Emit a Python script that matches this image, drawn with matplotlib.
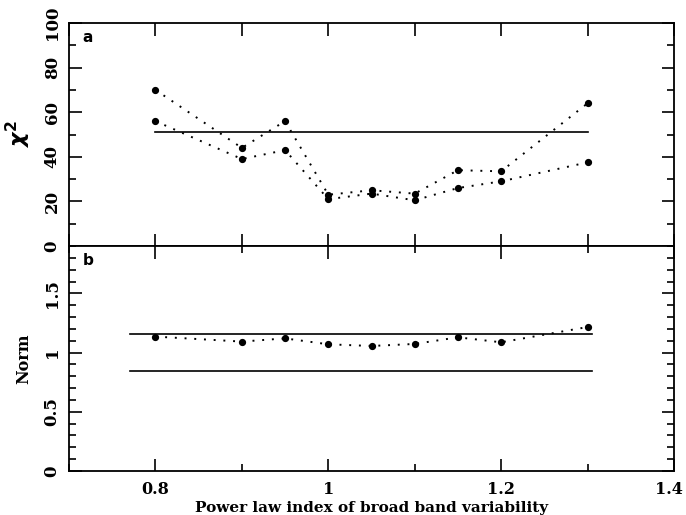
import numpy as np
import matplotlib
matplotlib.use("Agg")
import matplotlib.pyplot as plt
import matplotlib.transforms as mtrans
from matplotlib.ticker import MultipleLocator, FuncFormatter

# power law index values
index = [0.8, 0.9, 0.95, 1.0, 1.05, 1.1, 1.15, 1.2, 1.3]

# panel a: chi^2 for the two fits
chi2_a = [70, 44, 56, 23, 25, 23.5, 34, 33.5, 64]
chi2_b = [56, 39, 43, 21, 23.5, 20.5, 26, 29, 37.5]
chi2_level = 51
chi2_span = [0.8, 1.3]

# panel b: normalisation
norm = [1.135, 1.093, 1.12, 1.07, 1.056, 1.073, 1.129, 1.087, 1.216]
norm_hi = 1.155
norm_lo = 0.845
norm_span = [0.77, 1.305]

plt.rcParams['font.family'] = ['DejaVu Serif']
plt.rcParams['font.weight'] = 'bold'
plt.rcParams['axes.labelweight'] = 'bold'

fig = plt.figure(figsize=(6.86, 5.15), dpi=100)
ax1 = fig.add_axes([0.1006, 0.5223, 0.8819, 0.4330])
ax2 = fig.add_axes([0.1006, 0.0854, 0.8819, 0.4369])

dot = (0, (1, 4))
for ys in (chi2_a, chi2_b):
    ax1.plot(index, ys, color='black', ls=dot, lw=1.4, marker='o', ms=4.2, mec='black')
ax1.plot(chi2_span, [chi2_level, chi2_level], color='black', lw=1.2)

ax2.plot(index, norm, color='black', ls=dot, lw=1.4, marker='o', ms=4.2)
ax2.plot(norm_span, [norm_hi, norm_hi], color='black', lw=1.2)
ax2.plot(norm_span, [norm_lo, norm_lo], color='black', lw=1.2)

ax1.set_xlim(0.7, 1.4)
ax1.set_ylim(0, 100)
ax2.set_xlim(0.7, 1.4)
ax2.set_ylim(0, 1.9)

def short(v, pos):
    return ('%g' % round(v, 3))

ax1.yaxis.set_major_locator(MultipleLocator(20))
ax1.yaxis.set_minor_locator(MultipleLocator(10))
ax2.yaxis.set_major_locator(MultipleLocator(0.5))
ax2.yaxis.set_minor_locator(MultipleLocator(0.1))
for ax in (ax1, ax2):
    ax.xaxis.set_major_locator(MultipleLocator(0.2))
    ax.xaxis.set_minor_locator(MultipleLocator(0.1))
    ax.xaxis.set_major_formatter(FuncFormatter(short))
    ax.yaxis.set_major_formatter(FuncFormatter(short))
    ax.tick_params(which='both', direction='in', top=True, right=True, width=1.2)
    ax.tick_params(which='major', length=9)
    ax.tick_params(which='minor', length=5)
    ax.tick_params(axis='y', labelrotation=90, labelsize=12, pad=6)
    ax.tick_params(axis='x', labelsize=11.5, pad=7)
    for s in ax.spines.values():
        s.set_linewidth(1.3)
    for lab in ax.get_yticklabels():
        lab.set_va('center')
ax1.tick_params(axis='x', which='both', length=9, labelbottom=False)

# keep the last x label inside the figure
fig.canvas.draw()
shift = mtrans.ScaledTranslation(-4 / 72, 0, fig.dpi_scale_trans)
for lab in ax2.get_xticklabels():
    if lab.get_text() == '1.4':
        lab.set_transform(lab.get_transform() + shift)

ax1.set_ylabel(r'$\chi^2$', fontsize=16, labelpad=8)
ax2.set_ylabel('Norm', fontsize=11.5, labelpad=8)
ax2.set_xlabel('Power law index of broad band variability', fontsize=11, labelpad=2)

ax1.text(0.022, 0.915, 'a', transform=ax1.transAxes, fontsize=11,
         family='DejaVu Sans', fontweight='bold')
ax2.text(0.022, 0.915, 'b', transform=ax2.transAxes, fontsize=11,
         family='DejaVu Sans', fontweight='bold')

fig.savefig('out.png', dpi=100)
